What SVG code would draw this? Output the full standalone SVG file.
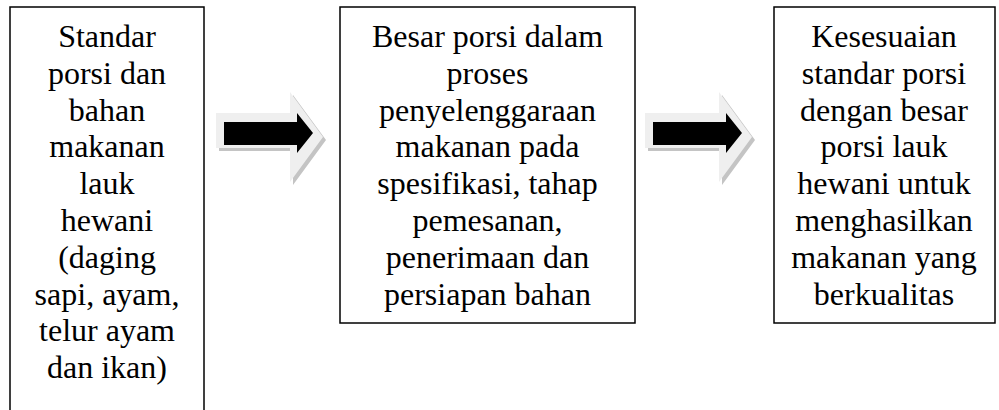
<svg xmlns="http://www.w3.org/2000/svg" width="999" height="410" viewBox="0 0 999 410">
<style>
.box{fill:#fff;stroke:#000;stroke-width:1.5}
.t{font-family:"Liberation Serif","Times New Roman",serif;font-size:32px;fill:#000;text-anchor:middle}
.outer{fill:#efefef}
.shadow{fill:#c4c4c4}
.inner{fill:#000}
</style>
<defs>
<g id="arrow">
<path class="shadow" d="M3,24 L77,24 L77,3 L110,48 L77,93 L77,59 L3,59 Z"/>
<path class="outer" d="M0,21 L74,21 L74,0 L107,45 L74,90 L74,56 L0,56 Z"/>
<path class="inner" d="M8,30 L81,30 L81,21 L97,41 L81,61 L81,53 L8,53 Z"/>
</g>
</defs>
<g id="node1">
<rect class="box" x="10" y="7" width="194" height="420"/>
<text class="t" x="107" y="47">Standar</text>
<text class="t" x="107" y="83.8">porsi dan</text>
<text class="t" x="107" y="120.6">bahan</text>
<text class="t" x="107" y="157.4">makanan</text>
<text class="t" x="107" y="194.2">lauk</text>
<text class="t" x="107" y="231">hewani</text>
<text class="t" x="107" y="267.8">(daging</text>
<text class="t" x="107" y="304.6">sapi, ayam,</text>
<text class="t" x="107" y="341.4">telur ayam</text>
<text class="t" x="107" y="378.2">dan ikan)</text>
</g>
<g id="node2">
<rect class="box" x="340" y="7" width="295" height="316"/>
<text class="t" x="487.5" y="47">Besar porsi dalam</text>
<text class="t" x="487.5" y="83.8">proses</text>
<text class="t" x="487.5" y="120.6">penyelenggaraan</text>
<text class="t" x="487.5" y="157.4">makanan pada</text>
<text class="t" x="487.5" y="194.2">spesifikasi, tahap</text>
<text class="t" x="487.5" y="231">pemesanan,</text>
<text class="t" x="487.5" y="267.8">penerimaan dan</text>
<text class="t" x="487.5" y="304.6">persiapan bahan</text>
</g>
<g id="node3">
<rect class="box" x="774" y="7" width="221" height="316"/>
<text class="t" x="884" y="47">Kesesuaian</text>
<text class="t" x="884" y="83.8">standar porsi</text>
<text class="t" x="884" y="120.6">dengan besar</text>
<text class="t" x="884" y="157.4">porsi lauk</text>
<text class="t" x="884" y="194.2">hewani untuk</text>
<text class="t" x="884" y="231">menghasilkan</text>
<text class="t" x="884" y="267.8">makanan yang</text>
<text class="t" x="884" y="304.6">berkualitas</text>
</g>
<g id="connectors">
<use href="#arrow" x="216" y="92"/>
<use href="#arrow" x="645" y="92"/>
</g>
</svg>
